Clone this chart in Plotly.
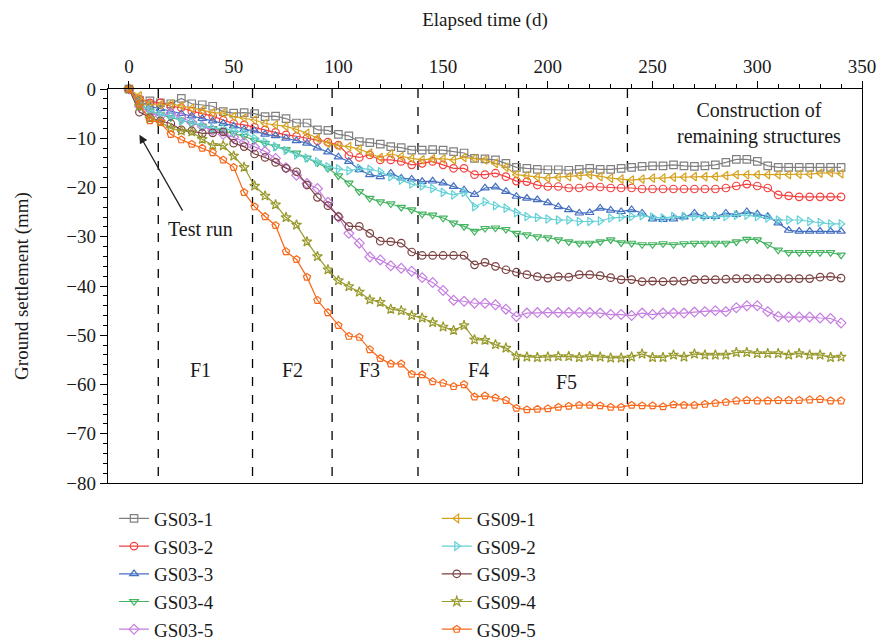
import plotly.graph_objects as go

# ---------------- data ----------------
days = [0, 5, 10, 15, 20, 25, 30, 35, 40, 45, 50, 55, 60, 65, 70, 75, 80, 85, 90, 95,
        100, 105, 110, 115, 120, 125, 130, 135, 140, 145, 150, 155, 160, 165, 170, 175,
        180, 185, 190, 195, 200, 205, 210, 215, 220, 225, 230, 235, 240, 245, 250, 255,
        260, 265, 270, 275, 280, 285, 290, 295, 300, 305, 310, 315, 320, 325, 330, 335, 340]

gs03_1 = [0, -2.3, -2.4, -2.8, -3.0, -1.9, -3.0, -3.2, -3.5, -4.6,
          -4.9, -4.8, -5.0, -5.6, -5.5, -6.0, -6.9, -6.9, -8.3, -8.4,
          -9.2, -9.5, -10.7, -10.9, -11.2, -11.7, -11.9, -12.4, -12.4, -12.3,
          -12.4, -12.7, -13.0, -14.1, -14.2, -14.4, -15.1, -15.9, -16.1, -16.3,
          -16.4, -16.4, -16.5, -16.3, -16.1, -16.3, -16.3, -16.1, -15.9, -15.7,
          -15.6, -15.6, -15.4, -15.6, -15.7, -15.6, -15.4, -14.9, -14.3, -14.3,
          -14.7, -15.6, -15.9, -15.9, -15.9, -15.9, -15.9, -15.9, -15.9]

gs03_2 = [0, -2.0, -2.8, -2.8, -3.5, -3.8, -4.5, -5.0, -5.5, -6.3, -7.0, -7.3, -7.8, -8.3,
          -8.8, -9.3, -9.6, -10.0, -10.5, -10.8, -11.4,
          -13.5, -13.9, -13.4, -14.4, -14.4, -14.7, -15.4, -15.1, -14.7, -15.4, -16.1, -16.1,
          -17.4, -17.4, -17.1, -17.8, -18.7, -18.8, -19.5, -19.8, -19.8, -20.1, -20.1, -19.8, -19.9,
          -20.1, -20.1, -20.1, -20.3, -20.3, -20.3, -20.3, -20.3, -20.3, -20.3, -20.3, -20.1,
          -19.7, -19.3, -19.7, -20.1, -21.5, -21.7, -21.9, -21.9, -21.9, -21.9, -21.9]

gs03_3 = [0, -2.5, -3.5, -4.0, -4.5, -5.0, -5.5, -6.0, -6.5, -7.0, -7.5, -8.2, -8.5, -9.2,
          -9.5, -10.0, -10.5, -11.0, -12.0, -12.8, -13.8,
          -14.7, -16.4, -17.4, -17.8, -17.1, -18.1, -18.3, -18.8, -18.7, -19.1, -19.8, -20.5,
          -21.4, -20.1, -19.9, -20.8, -21.8, -22.2, -22.5, -23.1, -23.9, -24.5, -25.2, -25.1, -24.2,
          -24.6, -24.9, -24.5, -25.2, -26.4, -26.5, -26.4, -26.0, -25.2, -25.9, -25.9, -25.2,
          -25.5, -24.9, -25.4, -25.9, -27.2, -28.7, -28.9, -28.9, -28.9, -28.9, -28.9]

gs03_4 = [0, -3.0, -4.5, -5.2, -5.8, -6.3, -7.0, -7.5, -8.0, -8.6, -9.0, -9.6, -10.4, -11.0,
          -11.7, -12.3, -13.0, -14.0, -15.0, -16.1, -17.6,
          -19.1, -20.8, -22.2, -22.9, -23.3, -24.0, -24.5, -25.4, -25.6, -26.2, -27.2, -27.9,
          -28.9, -28.3, -28.2, -28.5, -29.3, -29.6, -30.0, -30.2, -30.6, -31.0, -31.3, -31.3, -31.0,
          -30.6, -31.2, -31.3, -31.6, -31.6, -31.4, -31.6, -31.4, -31.3, -31.3, -31.3, -31.3,
          -31.0, -30.5, -30.6, -31.6, -32.7, -33.2, -33.2, -33.2, -33.2, -33.2, -33.7]

gs03_5 = [0, -3.5, -4.8, -5.5, -4.9, -5.8, -6.8, -7.6, -8.4, -9.2, -9.8, -10.8, -11.8, -12.7,
          -14.1, -16.0, -17.5, -19.2, -20.2, -23.0, -26.0,
          -29.3, -31.3, -34.1, -34.7, -35.9, -36.4, -37.0, -38.3, -39.3, -40.9, -42.9, -43.1,
          -43.5, -43.5, -43.8, -44.7, -46.2, -45.5, -45.4, -45.4, -45.4, -45.4, -45.4, -45.4, -45.5,
          -45.8, -45.8, -46.0, -45.5, -45.8, -45.5, -45.5, -45.5, -45.3, -45.2, -45.0, -45.2,
          -44.4, -44.0, -44.0, -45.2, -46.2, -46.3, -46.3, -46.3, -46.5, -46.6, -47.5]

gs09_1 = [0, -1.4, -3.2, -3.2, -3.0, -3.4, -3.9, -4.3, -4.8, -4.9, -5.6, -5.9, -6.3, -7.0,
          -7.3, -7.6, -8.2, -9.0, -10.0, -11.0, -11.5,
          -11.7, -12.2, -13.0, -13.9, -13.2, -13.7, -14.1, -14.4, -14.2, -14.2, -14.4, -13.9,
          -14.1, -14.4, -15.1, -15.9, -17.4, -17.6, -17.9, -18.1, -17.9, -17.8, -17.6, -17.4, -17.8,
          -18.1, -18.3, -18.5, -18.3, -18.1, -18.1, -17.9, -17.9, -17.8, -17.8, -17.8, -17.6,
          -17.4, -17.4, -17.4, -17.4, -17.4, -17.4, -17.3, -17.3, -17.1, -17.0, -17.2]

gs09_2 = [0, -3.0, -4.3, -5.2, -5.5, -6.5, -6.8, -7.5, -8.0, -8.0, -8.5, -8.8, -10.0, -10.8,
          -11.7, -12.5, -13.4, -14.0, -14.8, -15.8, -16.2,
          -16.6, -16.1, -16.3, -16.8, -17.8, -18.5, -19.3, -19.7, -20.2, -21.0, -21.5, -21.0,
          -23.9, -22.9, -23.7, -24.2, -25.1, -25.9, -26.1, -26.4, -26.6, -26.6, -26.9, -26.9, -26.8,
          -26.2, -26.0, -25.9, -25.7, -26.0, -26.2, -25.9, -25.9, -25.9, -25.9, -25.9, -25.9,
          -25.6, -25.6, -25.9, -26.2, -26.6, -26.6, -26.6, -26.9, -27.1, -27.4, -27.4]

gs09_3 = [0, -4.7, -5.8, -6.5, -7.0, -8.3, -8.5, -9.0, -8.9, -8.7,
          -11.0, -11.7, -13.2, -13.9, -14.9, -16.1, -16.8, -19.5, -22.0, -23.7,
          -25.9, -27.9, -27.9, -29.3, -30.9, -31.0, -31.3, -33.1, -33.8, -33.8,
          -33.8, -33.8, -33.8, -35.7, -35.2, -36.0, -36.7, -37.2, -37.7, -38.1,
          -38.4, -38.1, -38.2, -37.7, -37.7, -37.9, -38.3, -38.7, -38.7, -39.1,
          -39.0, -39.1, -39.0, -39.0, -38.7, -38.7, -38.7, -38.6, -38.5, -38.5,
          -38.5, -38.5, -38.5, -38.5, -38.5, -38.5, -38.2, -38.1, -38.4]

gs09_4 = [0, -3.5, -6.0, -6.7, -8.0, -8.5, -8.7, -10.2, -11.4, -11.5,
          -13.6, -15.9, -19.7, -21.7, -23.5, -26.1, -27.6, -31.0, -34.0, -36.7,
          -38.9, -40.1, -41.2, -42.8, -43.3, -44.7, -45.0, -46.0, -46.5, -47.4,
          -48.3, -49.0, -48.0, -50.9, -51.0, -51.9, -52.6, -54.2, -54.4, -54.5,
          -54.4, -54.3, -54.3, -54.5, -54.3, -54.4, -54.6, -54.6, -54.4, -53.8,
          -54.5, -54.5, -54.0, -54.4, -53.8, -54.0, -54.0, -54.0, -53.5, -53.5,
          -53.7, -53.7, -53.7, -54.0, -53.7, -54.0, -54.0, -54.5, -54.4]

gs09_5 = [0, -3.0, -6.4, -6.8, -9.2, -10.3, -11.2, -12.0, -12.9, -14.4,
          -15.9, -21.0, -23.9, -25.9, -27.7, -33.0, -34.6, -38.2, -42.9, -45.4,
          -48.0, -50.2, -50.4, -52.9, -54.7, -55.8, -55.8, -57.9, -58.0, -59.4,
          -59.7, -60.4, -60.0, -62.5, -62.3, -62.7, -63.2, -64.8, -65.1, -65.0,
          -64.9, -64.6, -64.4, -64.2, -64.2, -64.3, -64.6, -64.6, -64.2, -64.3,
          -64.3, -64.5, -64.1, -64.2, -64.2, -64.0, -63.8, -63.6, -63.3, -63.2,
          -63.3, -63.3, -63.2, -63.2, -63.2, -63.1, -63.0, -63.3, -63.3]

series_names = ["GS03-1", "GS03-2", "GS03-3", "GS03-4", "GS03-5",
                "GS09-1", "GS09-2", "GS09-3", "GS09-4", "GS09-5"]
series_values = [gs03_1, gs03_2, gs03_3, gs03_4, gs03_5,
                 gs09_1, gs09_2, gs09_3, gs09_4, gs09_5]

phase_bounds = [14, 59, 97, 138, 186, 238]
phase_labels = ["F1", "F2", "F3", "F4", "F5"]
phase_label_x = [34, 78, 115, 167, 209]
phase_label_y = [-57, -57, -57, -57, -59.5]

# ---------------- styles ----------------
colors = ["#808080", "#f2413f", "#4670c2", "#45b461", "#c57ee0",
          "#d6a21e", "#62d0d6", "#7b4141", "#999a2d", "#f8681a"]
symbols = ["square-open", "circle-open", "triangle-up-open", "triangle-down-open",
           "diamond-open", "triangle-left-open", "triangle-right-open", "circle-open",
           "star-open", "pentagon-open"]
FONT = "Liberation Serif"
TXT = "#1a1a1a"

fig = go.Figure()
for i, (name, vals) in enumerate(zip(series_names, series_values)):
    fig.add_trace(go.Scatter(
        x=days, y=vals, name=name, mode="lines+markers",
        line=dict(color=colors[i], width=1.2),
        marker=dict(symbol=symbols[i], size=7.5, color=colors[i],
                    line=dict(width=1.2, color=colors[i])),
        cliponaxis=False,
        legend="legend" if i < 5 else "legend2",
    ))

for b in phase_bounds:
    fig.add_shape(type="line", x0=b, x1=b, y0=0, y1=-80, xref="x", yref="y",
                  line=dict(color="black", width=1.3, dash="dash"), layer="below")

for lab, lx, ly in zip(phase_labels, phase_label_x, phase_label_y):
    fig.add_annotation(x=lx, y=ly, text=lab, showarrow=False,
                       font=dict(family=FONT, size=20, color=TXT))

fig.add_annotation(x=34, y=-28.5, text="Test run", showarrow=False,
                   font=dict(family=FONT, size=20, color=TXT))
fig.add_annotation(x=5, y=-9.3, ax=26, ay=-25, axref="x", ayref="y", xref="x", yref="y",
                   text="", showarrow=True, arrowhead=2, arrowsize=1.3, arrowwidth=1.3,
                   arrowcolor="#222")
fig.add_annotation(x=301, y=-7, text="Construction of<br>remaining structures",
                   showarrow=False, font=dict(family=FONT, size=20, color=TXT))

axis_common = dict(showline=True, linecolor="black", linewidth=1.3, mirror=True,
                   ticks="outside", ticklen=7, tickwidth=1.3, tickcolor="black",
                   showgrid=False, zeroline=False,
                   tickfont=dict(family=FONT, size=19, color=TXT))

fig.update_xaxes(side="top", range=[-10, 350], dtick=50, tick0=0,
                 minor=dict(dtick=10, ticklen=4, tickwidth=1.2, tickcolor="black", ticks="outside"),
                 title=dict(text="Elapsed time (d)", font=dict(family=FONT, size=19, color=TXT),
                            standoff=24),
                 **axis_common)
fig.update_yaxes(range=[-80, 0], dtick=10, tick0=0,
                 minor=dict(dtick=2, ticklen=4, tickwidth=1.2, tickcolor="black", ticks="outside"),
                 title=dict(text="Ground settlement (mm)", font=dict(family=FONT, size=19, color=TXT),
                            standoff=32),
                 **axis_common)

legend_common = dict(font=dict(family=FONT, size=19, color=TXT), bgcolor="rgba(0,0,0,0)",
                     xanchor="left", yanchor="top", yref="paper", itemwidth=30,
                     tracegroupgap=0)
fig.update_layout(
    width=880, height=644,
    margin=dict(l=108, r=18, t=89, b=161, autoexpand=False),
    paper_bgcolor="white", plot_bgcolor="white",
    font=dict(family=FONT, size=19, color=TXT),
    legend=dict(x=0.008, y=-0.042, **legend_common),
    legend2=dict(x=0.436, y=-0.042, **legend_common),
    showlegend=True,
)

fig.write_html("out.html")
